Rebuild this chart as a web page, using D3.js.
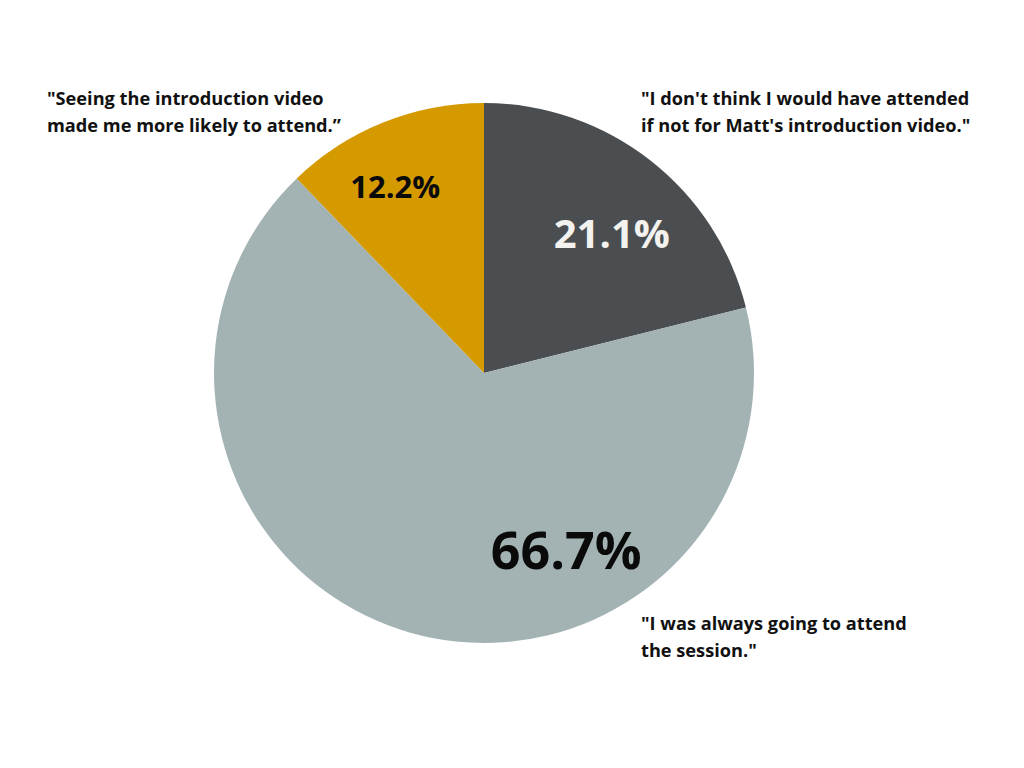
<!DOCTYPE html>
<html><head><meta charset="utf-8">
<script src="https://cdn.jsdelivr.net/npm/d3@7"></script>
<style>body{margin:0;background:#fff}svg{display:block}</style>
</head><body>
<script>
const categories = ["I don't think I would have attended if not for Matt's introduction video.", "I was always going to attend the session.", "Seeing the introduction video made me more likely to attend."];
const values = [21.1, 66.7, 12.2];
const valueLabels = ["21.1%", "66.7%", "12.2%"];
const colors = ["#4a4e51", "#a3b3b4", "#d59a00"];
const labelColors = ["#f4f2ee", "#0a0a0a", "#0a0a0a"];
const labelSizes = [40, 52, 31];
const quoteLines = [
  ["\"I don't think I would have attended", "if not for Matt's introduction video.\""],
  ["\"I was always going to attend", "the session.\""],
  ["\"Seeing the introduction video", "made me more likely to attend.\u201D"]
];

const W = 1024, H = 768, cx = 484, cy = 373, R = 270;
const svg = d3.select("body").append("svg").attr("width", W).attr("height", H);
const g = svg.append("g").attr("transform", `translate(${cx},${cy})`);
const pie = d3.pie().sort(null).value(d => d);
const arcs = pie(values);
const arc = d3.arc().innerRadius(0).outerRadius(R);
g.selectAll("path").data(arcs).join("path")
  .attr("d", arc).attr("fill", (d, i) => colors[i]);

// value label placement: fraction of radius, fraction through the slice's angle
const labelR = [0.70, 0.725, 0.765];
const labelT = [0.56, 0.33, 0.42];
const font = "'Open Sans', sans-serif";
g.selectAll("text.val").data(arcs).join("text")
  .attr("class", "val")
  .attr("transform", (d, i) => {
    const a = d.startAngle + (d.endAngle - d.startAngle) * labelT[i];
    return `translate(${Math.sin(a) * R * labelR[i]},${-Math.cos(a) * R * labelR[i]})`;
  })
  .attr("text-anchor", "middle").attr("dy", "0.36em")
  .attr("font-family", font).attr("font-weight", 700)
  .attr("font-size", (d, i) => labelSizes[i])
  .attr("fill", (d, i) => labelColors[i])
  .text((d, i) => valueLabels[i]);

// quotes
const quotePos = [[641, 105], [641, 630], [47, 105]];
quoteLines.forEach((lines, i) => {
  const t = svg.append("text").attr("x", quotePos[i][0]).attr("y", quotePos[i][1])
    .attr("font-family", font).attr("font-weight", 700).attr("font-size", 18.2).attr("fill", "#111");
  lines.forEach((l, j) => t.append("tspan").attr("x", quotePos[i][0]).attr("dy", j ? 27 : 0).text(l));
});
</script>
</body></html>
